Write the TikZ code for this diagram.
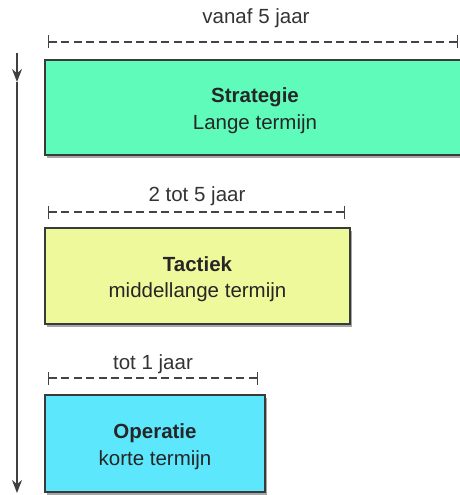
\documentclass[tikz,border=0pt]{standalone}
\usepackage{fontspec}
\setmainfont{Liberation Sans}
\usetikzlibrary{arrows.meta,shadows}
\definecolor{stratfill}{HTML}{5EFBBB}
\definecolor{tactfill}{HTML}{EEF99B}
\definecolor{operfill}{HTML}{5CE7FD}
\definecolor{edge}{HTML}{3A3A3A}
\definecolor{dimline}{HTML}{444444}
\tikzset{
  levelbox/.style={draw=edge, line width=1.4pt, rectangle, inner sep=0pt,
    drop shadow={shadow xshift=2pt, shadow yshift=-2.5pt, fill=black, opacity=0.35}},
  boxtext/.style={align=center, inner sep=0pt, text=black!85, yshift=-3pt,
    font=\fontsize{20.5}{26.5}\selectfont},
  span/.style={draw=dimline, line width=1.3pt, dash pattern=on 8pt off 4.5pt,
    {Bar[width=13pt,line width=1.3pt]}-{Bar[width=13pt,line width=1.3pt]}},
  spanlabel/.style={text=black!80, font=\fontsize{20.5}{24}\selectfont, inner sep=0pt},
  timeline/.style={draw=black!75, line width=1.4pt,
    -{Stealth[length=13pt,width=10pt]}}
}
\begin{document}
\begin{tikzpicture}[x=1pt,y=-1pt]
  \useasboundingbox (0,0) rectangle (460,495);

  % time axis on the left
  \coordinate (t0) at (17,53);
  \coordinate (t1) at (17,82);
  \coordinate (t2) at (17,493);
  \draw[timeline] (t0) -- (t1);
  \draw[timeline] (t1) -- (t2);

  % strategic level
  \node[levelbox, fill=stratfill, minimum width=420pt, minimum height=95pt]
    (strat) at (255,107.5) {};
  \node[boxtext] (strattext) at (strat.center) {\textbf{Strategie}\\Lange termijn};
  \coordinate (s0) at (48,42);
  \coordinate (s1) at (458,42);
  \draw[span] (s0) -- (s1);
  \node[spanlabel] (slab) at (256,18) {vanaf 5 jaar};

  % tactical level
  \node[levelbox, fill=tactfill, minimum width=305pt, minimum height=96pt]
    (tact) at (197.5,276) {};
  \node[boxtext] (tacttext) at (tact.center) {\textbf{Tactiek}\\middellange termijn};
  \coordinate (m0) at (48,212);
  \coordinate (m1) at (345,212);
  \draw[span] (m0) -- (m1);
  \node[spanlabel] (mlab) at (197,196) {2 tot 5 jaar};

  % operational level
  \node[levelbox, fill=operfill, minimum width=220pt, minimum height=97pt]
    (oper) at (155,443.5) {};
  \node[boxtext] (opertext) at (oper.center) {\textbf{Operatie}\\korte termijn};
  \coordinate (o0) at (48,378);
  \coordinate (o1) at (258,378);
  \draw[span] (o0) -- (o1);
  \node[spanlabel] (olab) at (153,364) {tot 1 jaar};
\end{tikzpicture}
\end{document}
